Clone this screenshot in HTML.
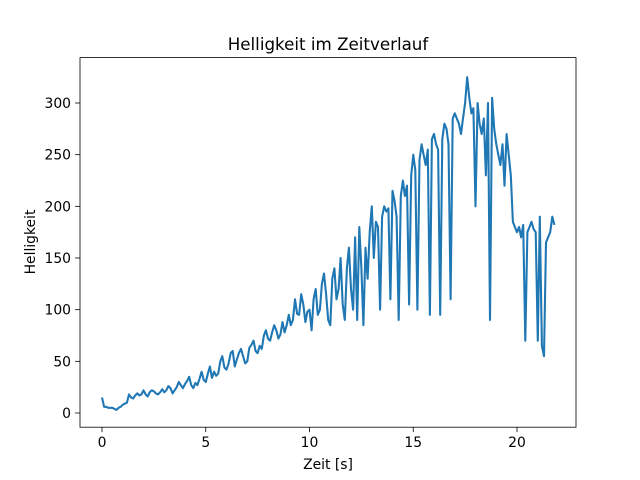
<!DOCTYPE html>
<html><head><meta charset="utf-8"><style>
body{margin:0;background:#fff;}
svg{display:block;font-family:"DejaVu Sans","Liberation Sans",sans-serif;}
</style></head><body>
<svg id="chart" width="640" height="480">
<rect width="640" height="480" fill="#fff"/>
<text x="328" y="50" text-anchor="middle" font-size="16.7">Helligkeit im Zeitverlauf</text>
<g id="ticks"></g>
<path id="line" fill="none" stroke="#1f77b4" stroke-width="2.08" stroke-linejoin="round"/>
<rect x="80" y="57.6" width="496" height="369.6" fill="none" stroke="#000" stroke-width="0.8"/>
<text x="328" y="469" text-anchor="middle" font-size="13.9">Zeit [s]</text>
<text transform="translate(35,242) rotate(-90)" text-anchor="middle" font-size="13.9">Helligkeit</text>
</svg>
<script>
const times=[0,0.1,0.2,0.3,0.4,0.5,0.6,0.7,0.8,0.9,
1,1.1,1.2,1.3,1.4,1.5,1.6,1.7,1.8,1.9,
2,2.1,2.2,2.3,2.4,2.5,2.6,2.7,2.8,2.9,
3,3.1,3.2,3.3,3.4,3.5,3.6,3.7,3.8,3.9,
4,4.1,4.2,4.3,4.4,4.5,4.6,4.7,4.8,4.9,
5,5.1,5.2,5.3,5.4,5.5,5.6,5.7,5.8,5.9,
6,6.1,6.2,6.3,6.4,6.5,6.6,6.7,6.8,6.9,
7,7.1,7.2,7.3,7.4,7.5,7.6,7.7,7.8,7.9,
8,8.1,8.2,8.3,8.4,8.5,8.6,8.7,8.8,8.9,
9,9.1,9.2,9.3,9.4,9.5,9.6,9.7,9.8,9.9,
10,10.1,10.2,10.3,10.4,10.5,10.6,10.7,10.8,10.9,
11,11.1,11.2,11.3,11.4,11.5,11.6,11.7,11.8,11.9,
12,12.1,12.2,12.3,12.4,12.5,12.6,12.7,12.8,12.9,
13,13.1,13.2,13.3,13.4,13.5,13.6,13.7,13.8,13.9,
14,14.1,14.2,14.3,14.4,14.5,14.6,14.7,14.8,14.9,
15,15.1,15.2,15.3,15.4,15.5,15.6,15.7,15.8,15.9,
16,16.1,16.2,16.3,16.4,16.5,16.6,16.7,16.8,16.9,
17,17.1,17.2,17.3,17.4,17.5,17.6,17.7,17.8,17.9,
18,18.1,18.2,18.3,18.4,18.5,18.6,18.7,18.8,18.9,
19,19.1,19.2,19.3,19.4,19.5,19.6,19.7,19.8,19.9,
20,20.1,20.2,20.3,20.4,20.5,20.6,20.7,20.8,20.9,
21,21.1,21.2,21.3,21.4,21.5,21.6,21.7,21.8];
const values=[15,6,6,5,5,5,4,3,5,6,
8,9,10,18,15,14,17,19,17,18,
22,18,16,20,22,21,19,18,20,23,
20,22,26,24,19,22,25,30,27,24,
28,31,35,27,24,29,27,33,40,32,
30,38,45,34,40,36,38,50,55,44,
42,48,58,60,45,52,58,62,55,48,
50,63,66,70,60,58,65,62,75,80,
72,70,78,85,80,72,76,88,78,85,
95,85,90,110,96,95,115,105,88,98,
100,80,110,120,95,100,125,135,115,90,
85,130,140,110,120,150,105,90,140,160,
120,100,170,90,180,140,85,160,130,175,
200,150,185,180,100,190,200,195,198,110,
215,205,190,90,210,225,210,220,105,230,
250,235,100,245,260,250,240,255,95,265,
270,260,255,95,265,280,275,260,110,285,
290,285,280,270,285,300,325,305,290,295,
200,300,280,270,285,230,300,90,305,275,
260,250,240,260,220,270,250,230,185,180,
175,180,170,182,70,175,180,185,178,175,
70,190,65,55,165,170,175,190,182];
const xTicks=[0,5,10,15,20];
const yTicks=[0,50,100,150,200,250,300];
const X=t=>102+t*20.75;
const Y=v=>413-v*1.0333;
const tg=document.getElementById('ticks');
const NS='http://www.w3.org/2000/svg';
xTicks.forEach(t=>{
  const l=document.createElementNS(NS,'line');
  l.setAttribute('x1',X(t));l.setAttribute('x2',X(t));l.setAttribute('y1',427.2);l.setAttribute('y2',432.1);
  l.setAttribute('stroke','#000');l.setAttribute('stroke-width','0.8');
  
  
  tg.appendChild(l);
  const s=document.createElementNS(NS,'text');
  s.setAttribute('x',X(t));s.setAttribute('y',447);s.setAttribute('text-anchor','middle');s.setAttribute('font-size','13.9');
  s.textContent=t;
  
  
  tg.appendChild(s);
});
yTicks.forEach(v=>{
  const l=document.createElementNS(NS,'line');
  l.setAttribute('x1',75.1);l.setAttribute('x2',80);l.setAttribute('y1',Y(v));l.setAttribute('y2',Y(v));
  l.setAttribute('stroke','#000');l.setAttribute('stroke-width','0.8');
  
  
  tg.appendChild(l);
  const s=document.createElementNS(NS,'text');
  s.setAttribute('x',71);s.setAttribute('y',Y(v)+5);s.setAttribute('text-anchor','end');s.setAttribute('font-size','13.9');
  s.textContent=v;
  
  
  tg.appendChild(s);
});
document.getElementById('line').setAttribute('d',times.map((t,i)=>(i?'L':'M')+X(t).toFixed(1)+','+Y(values[i]).toFixed(1)).join(''));
</script>
</body></html>
